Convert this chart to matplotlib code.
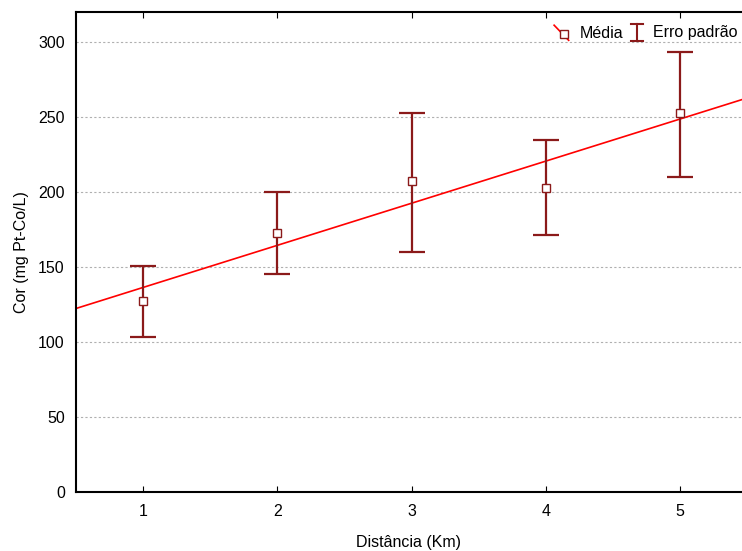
import numpy as np
import matplotlib
matplotlib.use("Agg")
import matplotlib.pyplot as plt
from matplotlib.lines import Line2D
from matplotlib.legend_handler import HandlerBase

plt.rcParams['font.family'] = ['Liberation Sans', 'DejaVu Sans']

# Dados
distancia = [1, 2, 3, 4, 5]
media = [127.3, 172.7, 207.3, 202.7, 252.7]
erro_sup = [150.7, 199.8, 253.0, 235.0, 293.6]
erro_inf = [103.2, 145.3, 160.2, 171.3, 210.2]
yticks = [0, 50, 100, 150, 200, 250, 300]

escuro = '#8b1a1a'
vermelho = '#ff0000'
fs = 11.5


class HandlerMedia(HandlerBase):
    def create_artists(self, legend, orig, xd, yd, w, h, fontsize, trans):
        ln = Line2D([xd + 0.05 * w, xd + 0.7 * w], [yd + h * 1.1, yd - h * 0.25],
                    color=vermelho, lw=1.2, transform=trans)
        mk = Line2D([xd + 0.48 * w], [yd + 0.3 * h], marker='s', ms=5.5,
                    mfc='white', mec=escuro, mew=1.0, ls='', transform=trans)
        return [ln, mk]


class HandlerErro(HandlerBase):
    def create_artists(self, legend, orig, xd, yd, w, h, fontsize, trans):
        cx = xd + 0.5 * w
        v = Line2D([cx, cx], [yd - 0.3 * h, yd + 1.2 * h], color=escuro, lw=1.5, transform=trans)
        t = Line2D([cx - 0.27 * w, cx + 0.27 * w], [yd + 1.2 * h] * 2, color=escuro, lw=1.5, transform=trans)
        b = Line2D([cx - 0.27 * w, cx + 0.27 * w], [yd - 0.3 * h] * 2, color=escuro, lw=1.5, transform=trans)
        return [v, t, b]


fig = plt.figure(figsize=(7.42, 5.51), dpi=100)
ax = fig.add_axes([0.1024, 0.1071, 0.8976, 0.8711])

x = np.array(distancia)
y = np.array(media)
lo = y - np.array(erro_inf)
hi = np.array(erro_sup) - y

# regressão linear sobre as médias
a, b = np.polyfit(x, y, 1)
xl = np.array([0.5, 5.5])
ax.plot(xl, a * xl + b, color=vermelho, lw=1.2, zorder=2)

ax.errorbar(x, y, yerr=[lo, hi], fmt='none', ecolor=escuro, elinewidth=1.6,
            capsize=9.5, capthick=1.6, zorder=3)
ax.plot(x, y, 's', ms=6, mfc='white', mec=escuro, mew=1.0, ls='', zorder=4)

ax.set_xlim(0.5, 5.46)
ax.set_ylim(0, 320)
ax.set_xticks(distancia)
ax.set_yticks(yticks)
ax.yaxis.grid(True, ls=(0, (2, 2)), color='#b0b0b0', lw=0.8)
ax.set_axisbelow(True)
ax.tick_params(axis='x', direction='in', top=True, length=4, labelsize=fs, pad=9)
ax.tick_params(axis='y', direction='in', length=0, labelsize=fs, pad=8)
for s in ['left', 'bottom', 'top']:
    ax.spines[s].set_linewidth(1.5)
ax.spines['right'].set_visible(False)

ax.set_xlabel('Distância (Km)', fontsize=fs, labelpad=11)
ax.set_ylabel('Cor (mg Pt-Co/L)', fontsize=fs, labelpad=7)

h1 = Line2D([], [])
h2 = Line2D([], [])
ax.legend([h1, h2], ['Média', 'Erro padrão'], handler_map={h1: HandlerMedia(), h2: HandlerErro()},
          loc='center left', bbox_to_anchor=(553 / 742, 1 - 33 / 551), bbox_transform=fig.transFigure,
          ncol=2, frameon=False, fontsize=fs, borderpad=0, borderaxespad=0,
          handlelength=1.4, handletextpad=0.25, columnspacing=0.2)

fig.savefig('out.png', dpi=100)
